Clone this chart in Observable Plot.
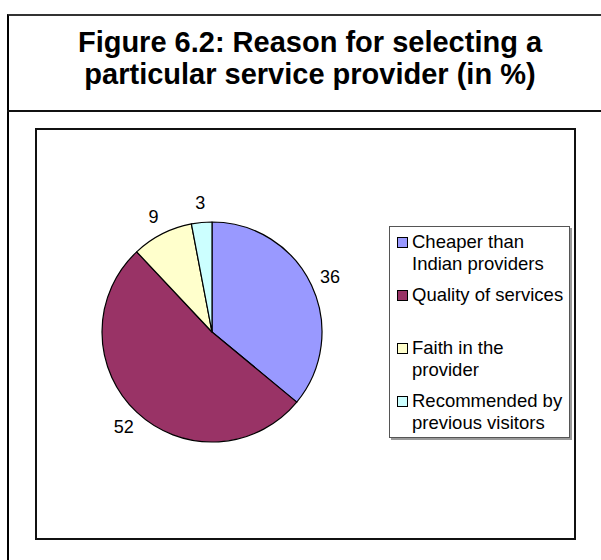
<!DOCTYPE html>
<html>
<head>
<meta charset="utf-8">
<script src="https://cdn.jsdelivr.net/npm/d3@7"></script>
<script src="https://cdn.jsdelivr.net/npm/@observablehq/plot@0.6"></script>
<style>
  html, body { margin: 0; padding: 0; background: #fff; overflow: hidden; width: 601px; height: 560px; }
  body { position: relative; font-family: "Liberation Sans", Arial, sans-serif; color: #000; }
  #outer { position: absolute; left: 7px; top: 14px; width: 640px; height: 620px; box-sizing: border-box;
           border-left: 2px solid #000; border-top: 2px solid #333; }
  #sep { position: absolute; left: 7px; top: 110px; width: 640px; height: 2px; background: #111; }
  #title { position: absolute; left: 7px; top: 26px; width: 606px; text-align: center; font-weight: bold;
           font-size: 29px; line-height: 32px; }
  #inner { position: absolute; left: 35px; top: 128px; width: 541px; height: 412px; box-sizing: border-box;
           border: 2px solid #111; }
  #chart { position: absolute; left: 37px; top: 130px; }
  #legend { position: absolute; left: 389px; top: 226px; width: 181px; height: 212px; box-sizing: border-box;
            border: 1px solid #555; box-shadow: 2px 2px 0 #9a9a9a; background: #fff; padding-top: 4px; }
  .item { position: relative; height: 53px; font-size: 18.5px; line-height: 22px; padding-left: 22px; }
  .sw { position: absolute; left: 7px; top: 6px; width: 9px; height: 9px; border: 1px solid #000; }
</style>
</head>
<body>
<div id="outer"></div>
<div id="sep"></div>
<div id="title">Figure 6.2: Reason for selecting a<br>particular service provider (in %)</div>
<div id="inner"></div>
<div id="chart"></div>
<div id="legend"></div>
<script>
const categories = ["Cheaper than Indian providers", "Quality of services", "Faith in the provider", "Recommended by previous visitors"];
const legendLines = [["Cheaper than", "Indian providers"], ["Quality of services"], ["Faith in the", "provider"], ["Recommended by", "previous visitors"]];
const values = [36, 52, 9, 3];
const colors = ["#9999ff", "#993366", "#ffffcc", "#ccffff"];

const data = categories.map((c, i) => ({category: c, value: values[i]}));
const arcs = d3.pie().value(d => d.value).sort(null)(data);
arcs.forEach(a => { a.mid = (a.startAngle + a.endAngle) / 2; });

const color = Plot.scale({color: {type: "ordinal", domain: categories, range: colors}});
const labelR = 1.18;

const W = 536, H = 406;
const cx = 175, cy = 202, R = 110;

const chart = Plot.plot({
  width: W,
  height: H,
  margin: 0,
  x: {domain: [-1, 1], range: [cx - R, cx + R], axis: null},
  y: {domain: [-1, 1], range: [cy + R, cy - R], axis: null},
  style: {fontFamily: "'Liberation Sans', Arial, sans-serif", background: "transparent"},
  marks: [
    (index, scales) => {
      const x0 = scales.x(0), y0 = scales.y(0);
      const r = scales.x(1) - scales.x(0);
      const arc = d3.arc().innerRadius(0).outerRadius(r);
      const g = d3.create("svg:g").attr("transform", `translate(${x0},${y0})`);
      g.selectAll("path").data(arcs).join("path")
        .attr("d", arc)
        .attr("fill", d => color.apply(d.data.category))
        .attr("stroke", "#000")
        .attr("stroke-width", 1.2)
        .attr("stroke-linejoin", "round");
      return g.node();
    },
    Plot.text(arcs, {
      x: d => labelR * Math.sin(d.mid),
      y: d => labelR * Math.cos(d.mid),
      text: d => String(d.data.value),
      fontSize: 18,
      fill: "#000"
    })
  ]
});
document.getElementById("chart").appendChild(chart);

const legend = d3.select("#legend");
categories.forEach((c, i) => {
  const item = legend.append("div").attr("class", "item");
  item.append("div").attr("class", "sw").style("background", color.apply(c));
  item.append("div").html(legendLines[i].join("<br>"));
});
</script>
</body>
</html>
